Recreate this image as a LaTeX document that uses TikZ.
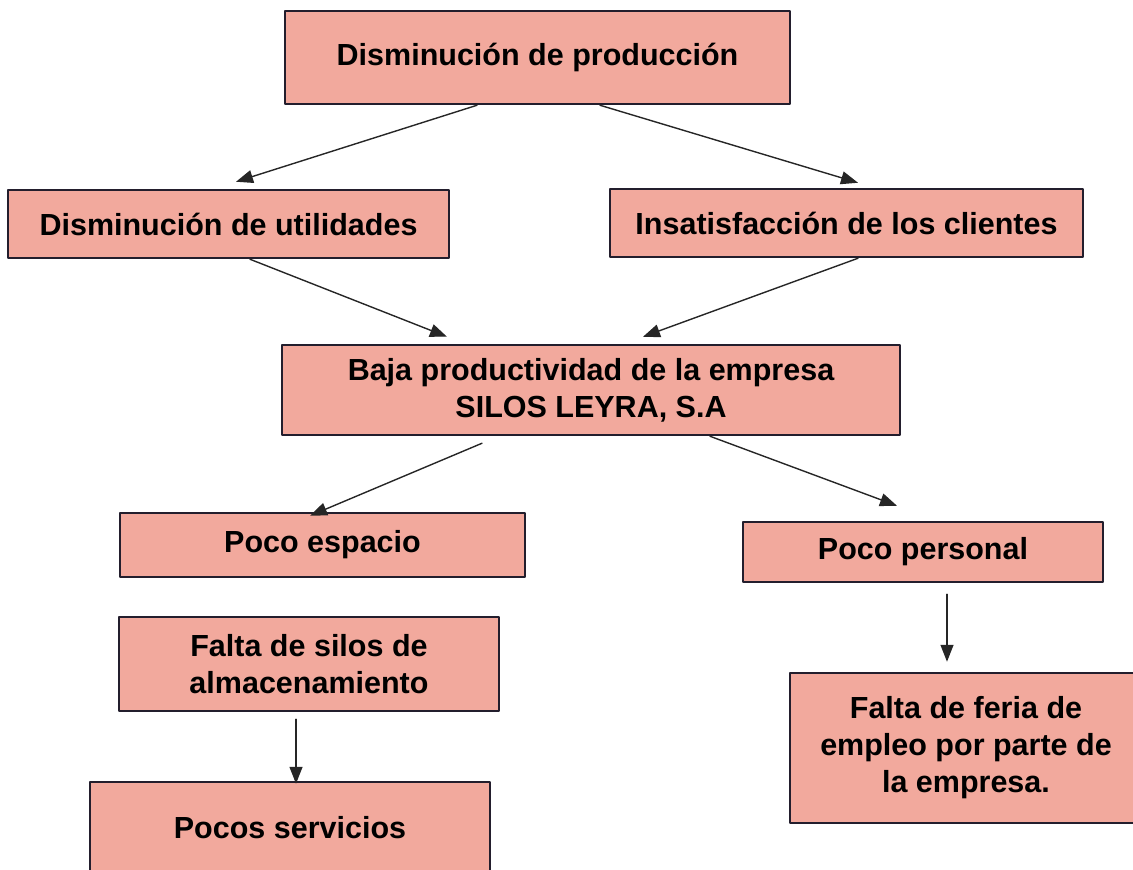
\documentclass[tikz,border=0pt]{standalone}
\usepackage{fontspec}
\setmainfont{Liberation Sans}
\usetikzlibrary{arrows.meta}
\definecolor{salmon}{RGB}{242,169,157}
\definecolor{borde}{RGB}{35,30,45}
\begin{document}
\begin{tikzpicture}[x=1pt,y=-1pt,>={Triangle[length=17pt,width=13pt]}, line join=round, line cap=round,
	caja/.style={draw=borde,fill=salmon,line width=2.5pt,align=center,inner sep=0pt,
		font=\fontsize{30.5}{37}\selectfont\bfseries},
	flecha/.style={->,line width=1.4pt,draw=black!85}]
	\clip (0,0) rectangle (1133,870);
	% Cajas
	\node[caja,minimum width=505,minimum height=93] (prod) at (537.5,57.5) {Disminución de producción};
	\node[caja,minimum width=441,minimum height=68] (util) at (228.5,224) {Disminución de utilidades};
	\node[caja,minimum width=473,minimum height=68] (clnt) at (846.5,223) {Insatisfacción de los clientes};
	\node[caja,minimum width=618,minimum height=90] (baja) at (591,390) {Baja productividad de la empresa\\SILOS LEYRA, S.A};
	\node[caja,minimum width=405,minimum height=64] (esp) at (322.5,545) {Poco espacio};
	\node[caja,minimum width=360,minimum height=60] (pers) at (923,552) {Poco personal};
	\node[caja,minimum width=380,minimum height=94] (silos) at (309,664) {Falta de silos de\\almacenamiento};
	\node[caja,minimum width=352,minimum height=150] (feria) at (966,748) {Falta de feria de\\empleo por parte de\\la empresa.};
	\node[caja,minimum width=400,minimum height=92] (serv) at (290,828) {Pocos servicios};
	% Flechas
	\draw[flecha] ([xshift=-60.5pt]prod.south) -- ([xshift=7.5pt,yshift=7pt]util.north);
	\draw[flecha] ([xshift=62.5pt]prod.south) -- ([xshift=11.5pt,yshift=5pt]clnt.north);
	\draw[flecha] ([xshift=21.5pt]util.south) -- ([xshift=-144pt,yshift=7pt]baja.north);
	\draw[flecha] ([xshift=11.5pt]clnt.south) -- ([xshift=52pt,yshift=7pt]baja.north);
	\draw[flecha] ([xshift=-109pt,yshift=-7pt]baja.south) -- ([xshift=-12.5pt,yshift=-4pt]esp.north);
	\draw[flecha] ([xshift=119pt]baja.south) -- ([xshift=-26pt,yshift=15pt]pers.north);
	\draw[flecha] ([xshift=24pt,yshift=-11pt]pers.south) -- ([xshift=-19pt,yshift=10pt]feria.north);
	\draw[flecha] ([xshift=-13pt,yshift=-7pt]silos.south) -- ([xshift=6pt,yshift=-3pt]serv.north);
\end{tikzpicture}
\end{document}
